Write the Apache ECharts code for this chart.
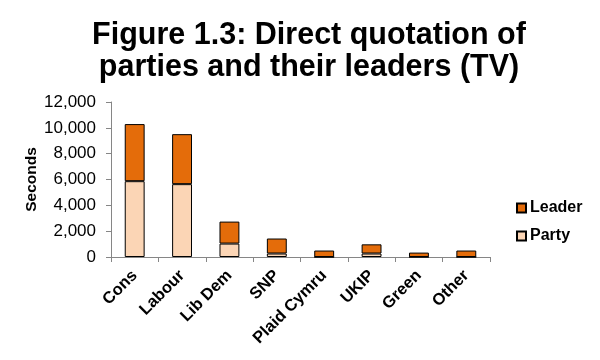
<!DOCTYPE html>
<html>
<head>
<meta charset="utf-8">
<script src="https://cdn.jsdelivr.net/npm/echarts@6/dist/echarts.min.js"></script>
<style>
html,body{margin:0;padding:0;background:#fff;}
#chart{width:600px;height:360px;}
</style>
</head>
<body>
<div id="chart"></div>
<script>
var categories = ['Cons', 'Labour', 'Lib Dem', 'SNP', 'Plaid Cymru', 'UKIP', 'Green', 'Other'];
var partyValues = [5870, 5640, 1040, 270, 0, 270, 0, 0];
var leaderValues = [4420, 3870, 1700, 1160, 500, 710, 340, 500];
var yTicks = [0, 2000, 4000, 6000, 8000, 10000, 12000];

var FONT = 'Liberation Sans, Arial, sans-serif';
var chart = echarts.init(document.getElementById('chart'));
chart.setOption({
  animation: false,
  backgroundColor: '#ffffff',
  title: {
    text: 'Figure 1.3: Direct quotation of\nparties and their leaders (TV)',
    left: 309,
    textAlign: 'center',
    top: 20,
    padding: 0,
    textStyle: { fontFamily: FONT, fontSize: 30.5, fontWeight: 'bold', color: '#000', lineHeight: 32 }
  },
  legend: {
    orient: 'vertical',
    left: 516,
    top: 200,
    padding: 0,
    icon: 'rect',
    itemWidth: 9,
    itemHeight: 9,
    itemGap: 12,
    data: ['Leader', 'Party'],
    textStyle: { fontFamily: FONT, fontSize: 16, fontWeight: 'bold', color: '#000', padding: [0, 0, 0, -1] }
  },
  grid: { left: 111, right: 110, top: 102, bottom: 103, containLabel: false },
  xAxis: {
    type: 'category',
    data: categories,
    axisLine: { lineStyle: { color: '#868686', width: 1 } },
    axisTick: { show: true, length: 5, lineStyle: { color: '#868686' } },
    axisLabel: { rotate: 45, margin: 16, interval: 0, fontFamily: FONT, fontSize: 16.5, fontWeight: 'bold', color: '#000' }
  },
  yAxis: {
    type: 'value',
    min: yTicks[0],
    max: yTicks[yTicks.length - 1],
    interval: yTicks[1] - yTicks[0],
    name: 'Seconds',
    nameLocation: 'middle',
    nameGap: 71,
    nameMoveOverlap: false,
    nameRotate: 90,
    nameTextStyle: { fontFamily: FONT, fontSize: 15.5, fontWeight: 'bold', color: '#000' },
    splitLine: { show: false },
    axisLine: { show: true, lineStyle: { color: '#868686', width: 1 } },
    axisTick: { show: true, length: 5, lineStyle: { color: '#868686' } },
    axisLabel: {
      margin: 15,
      fontFamily: FONT, fontSize: 17, color: '#000',
      formatter: function (v) { return v.toLocaleString('en-US'); }
    }
  },
  series: [
    {
      name: 'Party', type: 'bar', stack: 'total', data: partyValues, barWidth: '42%',
      itemStyle: { color: '#FBD5B5', borderColor: '#000', borderWidth: 1 }
    },
    {
      name: 'Leader', type: 'bar', stack: 'total', data: leaderValues, barWidth: '42%',
      itemStyle: { color: '#E46C0A', borderColor: '#000', borderWidth: 1 }
    }
  ]
});
</script>
</body>
</html>
